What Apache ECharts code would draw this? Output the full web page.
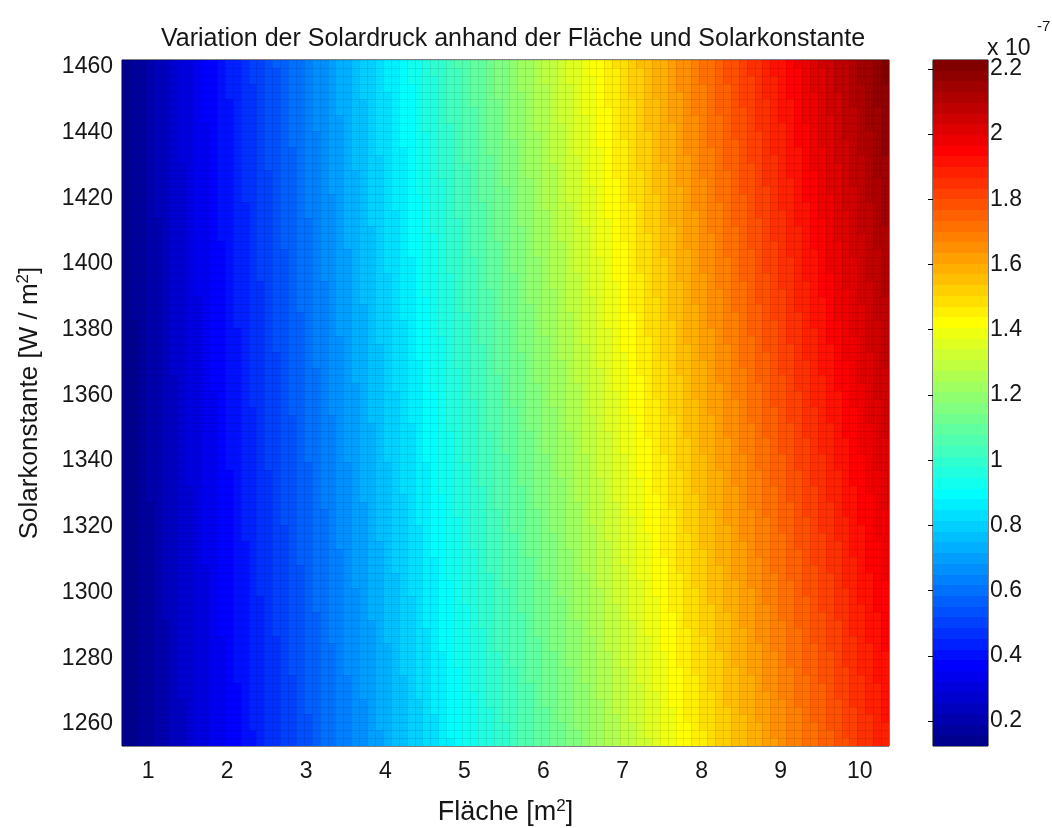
<!DOCTYPE html>
<html>
<head>
<meta charset="utf-8">
<script src="https://cdn.jsdelivr.net/npm/echarts@6/dist/echarts.min.js"></script>
<style>
  html, body { margin: 0; padding: 0; background: #fff; }
  #chart { width: 1052px; height: 828px; }
</style>
</head>
<body>
<div id="chart"></div>
<script>
// Gitter der Fläche (m²): Eckpunkte der Zellen
const flaecheStart = 0.67;
const flaecheSchritt = 0.1;
const flaecheAnzahl = 98;
// Gitter der Solarkonstante (W/m²): Eckpunkte der Zellen
const solarStart = 1253.3;
const solarSchritt = 2.4;
const solarAnzahl = 88;
// Solardruck-Kraft pro (m² · W/m²), in Einheiten von 1e-7 N
const druckKoeffizient = 1.469e-4;

// Achsenbeschriftungen
const flaecheTicks = [1, 2, 3, 4, 5, 6, 7, 8, 9, 10];
const solarTicks = [1260, 1280, 1300, 1320, 1340, 1360, 1380, 1400, 1420, 1440, 1460];
const farbTicks = [0.2, 0.4, 0.6, 0.8, 1, 1.2, 1.4, 1.6, 1.8, 2, 2.2];

const FONT = "'Liberation Sans', Arial, sans-serif";
const TEXT = '#161616';

const flaeche = [];
for (let j = 0; j < flaecheAnzahl; j++) flaeche.push(+(flaecheStart + j * flaecheSchritt).toFixed(3));
const solar = [];
for (let i = 0; i < solarAnzahl; i++) solar.push(+(solarStart + i * solarSchritt).toFixed(2));

// Solardruck an jedem Gitterpunkt (1e-7 N)
const druck = solar.map(s => flaeche.map(a => druckKoeffizient * a * s));
let cMin = Infinity, cMax = -Infinity;
druck.forEach(row => row.forEach(v => { cMin = Math.min(cMin, v); cMax = Math.max(cMax, v); }));

// jet-Farbtabelle mit 64 Stufen
function jet64() {
  const out = [];
  for (let i = 1; i <= 64; i++) {
    let r = 0, g = 0, b = 0;
    if (i >= 25 && i <= 40) r = (i - 24) / 16; else if (i >= 41 && i <= 56) r = 1; else if (i >= 57) r = (72 - i) / 16;
    if (i >= 9 && i <= 24) g = (i - 8) / 16; else if (i >= 25 && i <= 40) g = 1; else if (i >= 41 && i <= 55) g = (56 - i) / 16;
    if (i <= 8) b = (i + 8) / 16; else if (i <= 24) b = 1; else if (i <= 39) b = (40 - i) / 16;
    out.push('rgb(' + Math.round(r * 255) + ',' + Math.round(g * 255) + ',' + Math.round(b * 255) + ')');
  }
  return out;
}
const jet = jet64();
const stufe = (cMax - cMin) / jet.length;
const pieces = jet.map((c, k) => ({ min: cMin + k * stufe, max: cMin + (k + 1) * stufe, color: c }));

// Zellen: Farbe vom unteren linken Eckpunkt (facettierte Darstellung)
const zellen = [];
for (let i = 0; i < solarAnzahl - 1; i++) {
  for (let j = 0; j < flaecheAnzahl - 1; j++) {
    zellen.push([flaeche[j], solar[i], druck[i][j], j, i]);
  }
}
// Farbleiste: ein Band pro Farbstufe
const farbBaender = jet.map((c, k) => [0.5, k, cMin + (k + 0.5) * stufe]);

function renderZelle(params, api) {
  const j = api.value(3), i = api.value(4);
  const p0 = api.coord([flaeche[j], solar[i + 1]]);
  const p1 = api.coord([flaeche[j + 1], solar[i]]);
  const x = Math.round(p0[0]), y = Math.round(p0[1]);
  return {
    type: 'rect',
    shape: { x: x, y: y, width: Math.round(p1[0]) - x, height: Math.round(p1[1]) - y },
    style: { fill: api.visual('color') }
  };
}

// Facettenkanten des Gitters
function renderGitter(params, api) {
  const lines = [];
  const lineStyle = { stroke: 'rgba(0,0,0,0.09)', lineWidth: 1 };
  flaeche.forEach(a => {
    const top = api.coord([a, solar[solar.length - 1]]);
    const bot = api.coord([a, solar[0]]);
    const x = Math.round(top[0]) + 0.5;
    lines.push({ type: 'line', shape: { x1: x, y1: top[1], x2: x, y2: bot[1] }, style: lineStyle });
  });
  solar.forEach(s => {
    const l = api.coord([flaeche[0], s]);
    const r = api.coord([flaeche[flaeche.length - 1], s]);
    const y = Math.round(l[1]) + 0.5;
    lines.push({ type: 'line', shape: { x1: l[0], y1: y, x2: r[0], y2: y }, style: lineStyle });
  });
  return { type: 'group', children: lines };
}

function renderBand(params, api) {
  const k = api.value(1);
  const p0 = api.coord([0, cMin + (k + 1) * stufe]);
  const p1 = api.coord([1, cMin + k * stufe]);
  const y = Math.round(p0[1]);
  return {
    type: 'rect',
    shape: { x: p0[0], y: y, width: p1[0] - p0[0], height: Math.round(p1[1]) - y },
    style: { fill: api.visual('color') }
  };
}

const plain = v => String(v);
const tickLabel = { fontFamily: FONT, fontSize: 23, color: TEXT, formatter: plain };
const supStyle = { fontFamily: FONT, fontSize: 17, color: TEXT, verticalAlign: 'top', padding: [0, 0, 12, 0] };

const chart = echarts.init(document.getElementById('chart'), null, { renderer: 'canvas' });
chart.setOption({
  animation: false,
  backgroundColor: '#fff',
  title: {
    text: 'Variation der Solardruck anhand der Fläche und Solarkonstante',
    left: 508, top: 22, textAlign: 'center',
    textStyle: { fontFamily: FONT, fontSize: 25, fontWeight: 'normal', color: TEXT }
  },
  graphic: [
    { type: 'text', left: 987, top: 37, silent: true,
      style: { text: 'x 10', fontFamily: FONT, fontSize: 23, fill: TEXT } },
    { type: 'text', left: 1037, top: 19, silent: true,
      style: { text: '-7', fontFamily: FONT, fontSize: 15, fill: TEXT } }
  ],
  grid: [
    { left: 122, top: 60, width: 767, height: 686, containLabel: false, outerBoundsMode: 'none',
      show: true, borderColor: '#000', borderWidth: 1, backgroundColor: 'transparent' },
    { left: 933, top: 60, width: 55, height: 686, containLabel: false, outerBoundsMode: 'none',
      show: true, borderColor: '#000', borderWidth: 1, backgroundColor: 'transparent' }
  ],
  xAxis: [
    {
      type: 'value', gridIndex: 0, min: flaeche[0], max: flaeche[flaeche.length - 1],
      name: 'Fläche [m{sup|2}]', nameLocation: 'middle', nameGap: 52,
      nameTextStyle: { fontFamily: FONT, fontSize: 27, color: TEXT, rich: { sup: supStyle } },
      axisLine: { show: false }, axisTick: { show: false }, splitLine: { show: false },
      axisLabel: Object.assign({ customValues: flaecheTicks, margin: 14 }, tickLabel)
    },
    {
      type: 'value', gridIndex: 1, min: 0, max: 1, show: false
    }
  ],
  yAxis: [
    {
      type: 'value', gridIndex: 0, min: solar[0], max: solar[solar.length - 1],
      name: 'Solarkonstante [W / m{sup|2}]', nameLocation: 'middle', nameGap: 78, nameRotate: 90,
      nameTextStyle: { fontFamily: FONT, fontSize: 26, color: TEXT, rich: { sup: supStyle } },
      axisLine: { show: false }, axisTick: { show: false }, splitLine: { show: false },
      axisLabel: Object.assign({ customValues: solarTicks, margin: 9 }, tickLabel)
    },
    {
      type: 'value', gridIndex: 1, position: 'right', min: cMin, max: cMax,
      axisLine: { show: false }, splitLine: { show: false },
      axisTick: { show: true, inside: true, length: 5, customValues: farbTicks, lineStyle: { color: '#000' } },
      axisLabel: Object.assign({ customValues: farbTicks, margin: 2 }, tickLabel)
    },
    {
      type: 'value', gridIndex: 1, position: 'left', min: cMin, max: cMax,
      axisLine: { show: false }, splitLine: { show: false }, axisLabel: { show: false },
      axisTick: { show: true, inside: true, length: 5, customValues: farbTicks, lineStyle: { color: '#000' } }
    }
  ],
  visualMap: {
    type: 'piecewise', show: false, dimension: 2, seriesIndex: [0, 2],
    pieces: pieces
  },
  series: [
    {
      type: 'custom', name: 'Solardruck', xAxisIndex: 0, yAxisIndex: 0,
      renderItem: renderZelle, data: zellen, clip: true,
      encode: { x: 0, y: 1 }, progressive: 0, silent: true, z: 1
    },
    {
      type: 'custom', name: 'Gitter', xAxisIndex: 0, yAxisIndex: 0,
      renderItem: renderGitter, data: [[flaeche[0], solar[0]]], clip: true,
      encode: { x: 0, y: 1 }, silent: true, z: 2
    },
    {
      type: 'custom', name: 'Farbleiste', xAxisIndex: 1, yAxisIndex: 1,
      renderItem: renderBand, data: farbBaender,
      encode: { x: 0, y: 2 }, silent: true, z: 1
    }
  ]
});
</script>
</body>
</html>
